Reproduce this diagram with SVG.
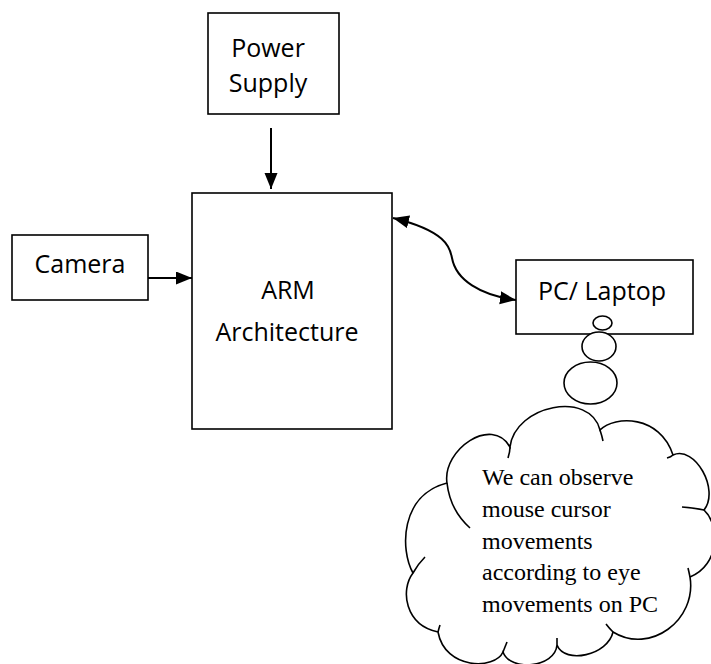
<svg xmlns="http://www.w3.org/2000/svg" width="711" height="664" viewBox="0 0 711 664">
  <style>
    .box { fill: #ffffff; stroke: #000000; stroke-width: 1.6; }
    .lbl { font-family: "Open Sans", "Liberation Sans", sans-serif; font-size: 25px; fill: #000000; text-anchor: middle; }
    .wire { fill: none; stroke: #000000; stroke-width: 2; }
    .bubble { fill: #ffffff; stroke: #000000; stroke-width: 1.6; }
    .tail { fill: none; stroke: #000000; stroke-width: 1.6; }
    .note { font-family: "Liberation Serif", "Times New Roman", serif; font-size: 24px; fill: #000000; }
  </style>
  <defs>
    <marker id="head" markerUnits="userSpaceOnUse" markerWidth="17" markerHeight="14" refX="16" refY="6.5" orient="auto-start-reverse">
      <path d="M0,0 L16,6.5 L0,13 Z" fill="#000000"/>
    </marker>
  </defs>

  <rect width="711" height="664" fill="#ffffff"/>

  <!-- blocks -->
  <g id="power-supply">
    <rect class="box" x="208" y="13" width="131" height="101"/>
    <text class="lbl" x="268" y="57">Power</text>
    <text class="lbl" x="268" y="92">Supply</text>
  </g>

  <g id="camera">
    <rect class="box" x="12" y="235" width="136" height="65"/>
    <text class="lbl" x="80" y="273">Camera</text>
  </g>

  <g id="arm">
    <rect class="box" x="192" y="193" width="200" height="236"/>
    <text class="lbl" x="288" y="299">ARM</text>
    <text class="lbl" x="287" y="341">Architecture</text>
  </g>

  <g id="pc-laptop">
    <rect class="box" x="516" y="260" width="177" height="74"/>
    <text class="lbl" x="602" y="300">PC/ Laptop</text>
  </g>

  <!-- connectors -->
  <g id="connectors">
    <line class="wire" x1="271" y1="128" x2="271" y2="189" marker-end="url(#head)"/>
    <line class="wire" x1="148" y1="278" x2="192" y2="278" marker-end="url(#head)"/>
    <path class="wire" d="M 393 218 C 450 232, 450 250, 452 258 C 456 280, 480 295, 516 300" marker-start="url(#head)" marker-end="url(#head)"/>
  </g>

  <!-- thought bubble -->
  <g id="thought">
    <ellipse class="bubble" cx="602.5" cy="323" rx="9.5" ry="7"/>
    <ellipse class="bubble" cx="599" cy="346.5" rx="17" ry="14.5"/>
    <ellipse class="bubble" cx="590.5" cy="383" rx="26.5" ry="21"/>

    <path class="bubble" d="M 447 483
      C 442 450, 492 415, 510 447
      C 515 405, 590 390, 600 430
      C 615 415, 660 415, 673 455
      C 695 445, 720 490, 704 510
      C 720 525, 720 565, 690 577
      C 697 620, 650 655, 613 632
      C 608 655, 565 665, 557 645
      C 555 668, 510 672, 503 652
      C 495 670, 445 670, 438 632
      C 405 625, 400 590, 413 573
      C 400 550, 400 495, 447 483 Z"/>
    <path class="tail" d="M 447 483 Q 450 510 470 528"/>
    <path class="tail" d="M 510 447 Q 510 452 508 458"/>
    <path class="tail" d="M 600 430 Q 602 436 603 441"/>
    <path class="tail" d="M 673 455 Q 671 457 667 458"/>
    <path class="tail" d="M 682 507 Q 695 508 704 510"/>
    <path class="tail" d="M 688 568 Q 689 572 690 577"/>
    <path class="tail" d="M 613 632 Q 609 628 606 624"/>
    <path class="tail" d="M 557 645 Q 557 641 557 638"/>
    <path class="tail" d="M 503 652 Q 505 647 507 642"/>
    <path class="tail" d="M 438 632 Q 439 628 440 625"/>
    <path class="tail" d="M 413 573 Q 418 564 425 557"/>

    <text class="note" x="482" y="485">We can observe</text>
    <text class="note" x="482" y="517">mouse cursor</text>
    <text class="note" x="482" y="549">movements</text>
    <text class="note" x="482" y="580">according to eye</text>
    <text class="note" x="482" y="612">movements on PC</text>
  </g>
</svg>
